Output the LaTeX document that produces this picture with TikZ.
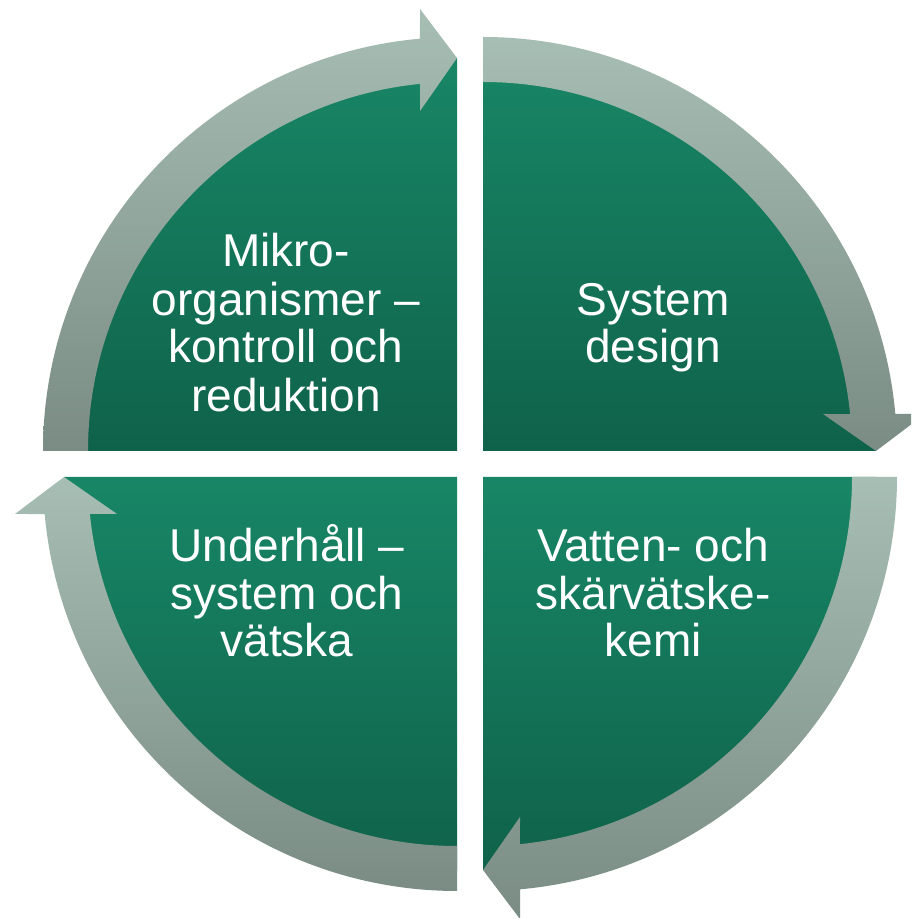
\documentclass[tikz,border=0pt]{standalone}
\usepackage{fontspec}
\setmainfont{Liberation Sans}
\usetikzlibrary{calc}
\definecolor{glight}{RGB}{24,134,102}
\definecolor{gdark}{RGB}{15,98,74}
\definecolor{blight}{RGB}{167,190,180}
\definecolor{bdark}{RGB}{122,140,132}
\tikzset{
  sector/.style={top color=glight, bottom color=gdark, draw=none},
  band/.style={top color=blight, bottom color=bdark, draw=none},
  lbl/.style={text=white, font=\fontsize{46}{48}\selectfont, anchor=base, inner sep=0pt},
}
\newcommand\quarterdisc[3]{%
  \path[sector] (#1) -- ($(#1)+(#2:393)$) arc[start angle=#2,end angle=#3,radius=393] -- cycle;}
\newcommand\bandarrow[3]{%
  \path[band] ($(#1)+(#2:414)$) arc[start angle=#2,end angle={#3+5.13},radius=414]
    -- ($(#1)+(#3:442)+({#3+90}:37)$) -- ($(#1)+(#3:393)$)
    -- ($(#1)+(#3:340)+({#3+90}:37)$) -- ($(#1)+({#3+5.75}:369)$)
    arc[start angle={#3+5.75},end angle=#2,radius=369] -- cycle;}
\begin{document}
\begin{tikzpicture}[x=1pt,y=1pt]
\clip (0,0) rectangle (911,918);
\coordinate (cUL) at (457,467);
\coordinate (cUR) at (483,467);
\coordinate (cLL) at (457,441);
\coordinate (cLR) at (483,441);
\quarterdisc{cUL}{90}{180}
\quarterdisc{cUR}{0}{90}
\quarterdisc{cLL}{180}{270}
\quarterdisc{cLR}{270}{360}
\bandarrow{cUL}{180}{90}
\bandarrow{cUR}{90}{0}
\bandarrow{cLR}{360}{270}
\bandarrow{cLL}{270}{180}
\node[lbl] (ul1) at (286,651) {Mikro-};
\node[lbl] (ul2) at (286,602) {organismer –};
\node[lbl] (ul3) at (286,555) {kontroll och};
\node[lbl] (ul4) at (286,506) {reduktion};
\node[lbl] (ur1) at (653,602) {System};
\node[lbl] (ur2) at (653,555) {design};
\node[lbl] (lr1) at (653,356) {Vatten- och};
\node[lbl] (lr2) at (653,308) {skärvätske-};
\node[lbl] (lr3) at (653,261) {kemi};
\node[lbl] (ll1) at (287,356) {Underhåll –};
\node[lbl] (ll2) at (287,308) {system och};
\node[lbl] (ll3) at (287,261) {vätska};
\end{tikzpicture}
\end{document}
